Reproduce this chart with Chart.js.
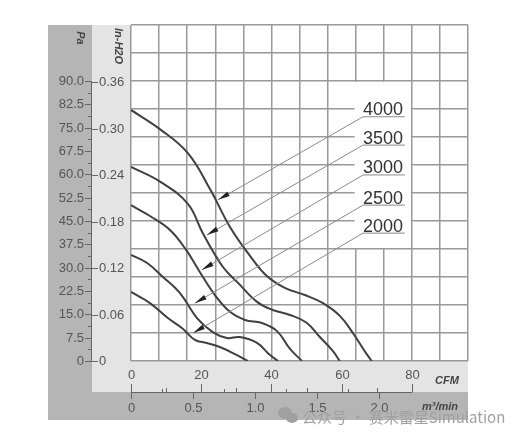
<!DOCTYPE html>
<html>
<head>
<meta charset="utf-8">
<script src="https://cdn.jsdelivr.net/npm/chart.js@4.4.0/dist/chart.umd.min.js"></script>
<style>
body { margin: 0; background: #fff; }
#wrap { width: 512px; height: 437px; }
</style>
</head>
<body>
<div id="wrap"><canvas id="chart"></canvas></div>
<script>
// tick labels
const cfmTicks = [0, 20, 40, 60, 80];
const m3Ticks = [0, 0.5, 1.0, 1.5, 2.0];
const paTicks = [0, 7.5, 15, 22.5, 30, 37.5, 45, 52.5, 60, 67.5, 75, 82.5, 90];
const inH2OTicks = [0, 0.06, 0.12, 0.18, 0.24, 0.30, 0.36];

// fan speeds (rpm)
const speeds = ['4000', '3500', '3000', '2500', '2000'];

// curves: CFM / Pa
const cfm4000 = [0, 8.5, 16.2, 22.5, 28.2, 33.9, 38.7, 43.8, 49.5, 54.7, 59.5, 63.2, 66.9, 68.6];
const pa4000  = [80.7, 74.3, 66.8, 55.3, 43.1, 33.8, 27.3, 23.5, 21.2, 18.6, 14.5, 9.0, 2.6, 0];

const cfm3500 = [0, 8.5, 16.2, 20.5, 26.2, 30.5, 35.9, 40.4, 45.3, 50.1, 53.8, 57.3, 59.5];
const pa3500  = [62.4, 57.5, 50.5, 41.0, 30.2, 25.1, 19.0, 16.4, 14.8, 12.2, 7.7, 3.5, 0];

const cfm3000 = [0, 5.4, 11.1, 15.7, 19.6, 23.9, 28.2, 32.5, 37.3, 41.6, 45.3, 48.7];
const pa3000  = [50.1, 46.6, 42.1, 35.7, 28.6, 21.2, 15.8, 13.2, 12.2, 9.6, 3.9, 0];

const cfm2500 = [0, 4.6, 9.1, 13.9, 18.8, 23.3, 27.3, 31.0, 35.9, 39.6, 41.9];
const pa2500  = [34.1, 31.5, 27.0, 21.9, 13.8, 9.3, 7.4, 7.7, 5.8, 1.9, 0];

const cfm2000 = [0, 5.4, 10.5, 14.5, 18.2, 21.6, 25.3, 30.2, 33.3];
const pa2000  = [22.2, 18.6, 13.8, 10.6, 6.8, 5.8, 4.5, 1.9, 0];

const curveX = [cfm4000, cfm3500, cfm3000, cfm2500, cfm2000];
const curveY = [pa4000, pa3500, pa3000, pa2500, pa2000];

const PA_PER_INH2O = 249;
const CFM_PER_M3MIN = 35.315;

// callouts: label anchor (CFM, Pa) and arrow tip on the curve
const calloutPa = [78.5, 69.4, 59.8, 50.1, 41.1];
const tipCfm = [24.8, 21.6, 20.2, 18.2, 17.7];
const tipPa = [51.8, 40.5, 29.3, 18.6, 9.0];

const lightGrey = '#e4e4e4';
const darkGrey = '#b5b5b5';
const textCol = '#555';

const panels = {
  id: 'panels',
  beforeDraw(chart) {
    const c = chart.ctx, a = chart.chartArea;
    c.save();
    c.fillStyle = '#fff';
    c.fillRect(0, 0, chart.width, chart.height);
    c.fillStyle = darkGrey;
    c.fillRect(48, a.top, 44, 420 - a.top);
    c.fillRect(48, 392, a.right - 48, 28);
    c.fillStyle = lightGrey;
    c.fillRect(92, a.top, a.left - 92, 392 - a.top);
    c.fillRect(92, a.bottom, a.right - 92, 392 - a.bottom);
    c.restore();
  },
  beforeDatasetsDraw(chart) {
    // blank box behind the speed labels
    const c = chart.ctx, x = chart.scales.x, y = chart.scales.y;
    c.save();
    c.fillStyle = '#fff';
    c.fillRect(x.getPixelForValue(64) - 1, y.getPixelForValue(90) + 1,
      x.getPixelForValue(80) - x.getPixelForValue(64), y.getPixelForValue(36) - y.getPixelForValue(90) - 2);
    c.restore();
  },
  afterDatasetsDraw(chart) {
    const c = chart.ctx, x = chart.scales.x, y = chart.scales.y;
    c.save();
    speeds.forEach((s, i) => {
      const ax = x.getPixelForValue(66.1), ay = y.getPixelForValue(calloutPa[i]);
      const ex = x.getPixelForValue(78);
      const tx = x.getPixelForValue(tipCfm[i]), ty = y.getPixelForValue(tipPa[i]);
      c.strokeStyle = '#8a8a8a';
      c.lineWidth = 1;
      c.beginPath();
      c.moveTo(ex, ay);
      c.lineTo(ax, ay);
      c.lineTo(tx, ty);
      c.stroke();
      // arrow head
      const ang = Math.atan2(ay - ty, ax - tx);
      const len = 12, w = 2.5;
      const bx = tx + Math.cos(ang) * len, by = ty + Math.sin(ang) * len;
      c.fillStyle = '#222';
      c.beginPath();
      c.moveTo(tx, ty);
      c.lineTo(bx - Math.sin(ang) * w, by + Math.cos(ang) * w);
      c.lineTo(bx + Math.sin(ang) * w, by - Math.cos(ang) * w);
      c.closePath();
      c.fill();
      c.fillStyle = '#333';
      c.font = '18px "Liberation Sans", Arial, sans-serif';
      c.textAlign = 'left';
      c.textBaseline = 'alphabetic';
      c.fillText(s, ax, ay - 1.5);
    });
    c.restore();
  },
  afterDraw(chart) {
    const c = chart.ctx, x = chart.scales.x, y = chart.scales.y;
    c.save();
    c.strokeStyle = '#666';
    c.fillStyle = textCol;
    c.lineWidth = 1;
    c.font = '13px "Liberation Sans", Arial, sans-serif';

    // left axes: Pa and In-H2O
    const axX = 91.5;
    c.beginPath();
    c.moveTo(axX, y.getPixelForValue(90));
    c.lineTo(axX, y.getPixelForValue(0));
    c.stroke();
    c.textAlign = 'right';
    c.textBaseline = 'middle';
    paTicks.forEach(v => {
      const py = Math.round(y.getPixelForValue(v)) + 0.5;
      c.beginPath(); c.moveTo(85, py); c.lineTo(axX, py); c.stroke();
      c.fillText(v === 0 ? '0' : v.toFixed(1), 84, py);
      const my = Math.round(y.getPixelForValue(v + 3.75)) + 0.5;
      if (v < 90) { c.beginPath(); c.moveTo(88, my); c.lineTo(axX, my); c.stroke(); }
    });
    c.textAlign = 'left';
    inH2OTicks.forEach(v => {
      const py = Math.round(y.getPixelForValue(v * PA_PER_INH2O)) + 0.5;
      c.beginPath(); c.moveTo(axX, py); c.lineTo(98, py); c.stroke();
      c.fillText(v === 0 ? '0' : v.toFixed(2), 99, py);
    });

    // bottom axes: CFM and m3/min
    const lineY = 392.5;
    c.beginPath();
    c.moveTo(x.getPixelForValue(0), lineY);
    c.lineTo(x.getPixelForValue(80), lineY);
    c.stroke();
    c.textAlign = 'center';
    cfmTicks.forEach(v => {
      const px = Math.round(x.getPixelForValue(v)) + 0.5;
      c.beginPath(); c.moveTo(px, lineY); c.lineTo(px, 384); c.stroke();
      c.fillText(String(v), px, 375);
      if (v < 80) {
        const mx = Math.round(x.getPixelForValue(v + 10)) + 0.5;
        c.beginPath(); c.moveTo(mx, lineY); c.lineTo(mx, 388); c.stroke();
      }
    });
    m3Ticks.forEach(v => {
      const px = Math.round(x.getPixelForValue(v * CFM_PER_M3MIN)) + 0.5;
      c.beginPath(); c.moveTo(px, lineY); c.lineTo(px, 399); c.stroke();
      c.fillText(v === 0 ? '0' : v.toFixed(1), px, 408);
      if (v < 2) {
        const mx = Math.round(x.getPixelForValue((v + 0.25) * CFM_PER_M3MIN)) + 0.5;
        c.beginPath(); c.moveTo(mx, lineY); c.lineTo(mx, 389); c.stroke();
      }
    });

    // unit titles
    c.fillStyle = '#444';
    c.font = 'bold italic 11px "Liberation Sans", Arial, sans-serif';
    c.fillText('CFM', 447, 381);
    c.fillText('m³/min', 440, 407);
    [['Pa', 80, 38], ['In-H2O', 118, 46]].forEach(([t, px, py]) => {
      c.save();
      c.translate(px, py);
      c.rotate(Math.PI / 2);
      c.fillText(t, 0, 0);
      c.restore();
    });

    // watermark
    c.fillStyle = '#a0a0a0';
    c.beginPath(); c.ellipse(285, 413, 7, 6, 0, 0, Math.PI * 2); c.fill();
    c.beginPath(); c.ellipse(292, 418, 6, 5, 0, 0, Math.PI * 2); c.fill();
    c.font = '15px "Noto Sans CJK SC", "Noto Sans", sans-serif';
    c.textAlign = 'left';
    c.fillText('公众号 · 赛米雷星Simulation', 302, 417);
    c.restore();
  }
};

const datasets = speeds.map((s, i) => ({
  label: s + ' rpm',
  data: curveX[i].map((v, j) => ({ x: v, y: curveY[i][j] })),
  borderColor: '#404040',
  borderWidth: 2,
  pointRadius: 0,
  showLine: true,
  tension: 0.4,
  fill: false
}));

new Chart(document.getElementById('chart'), {
  type: 'scatter',
  data: { datasets },
  options: {
    responsive: true,
    maintainAspectRatio: false,
    animation: false,
    layout: { padding: { left: 131, right: 44, top: 25, bottom: 76 } },
    plugins: { legend: { display: false }, tooltip: { enabled: false } },
    scales: {
      x: {
        type: 'linear', min: 0, max: 96,
        ticks: { stepSize: 8, display: false },
        grid: { color: '#999', lineWidth: 1.5, drawTicks: false },
        border: { display: false }
      },
      y: {
        type: 'linear', min: 0, max: 108,
        ticks: { stepSize: 9, display: false },
        grid: { color: '#999', lineWidth: 1.5, drawTicks: false },
        border: { display: false }
      }
    }
  },
  plugins: [panels]
});
</script>
</body>
</html>
